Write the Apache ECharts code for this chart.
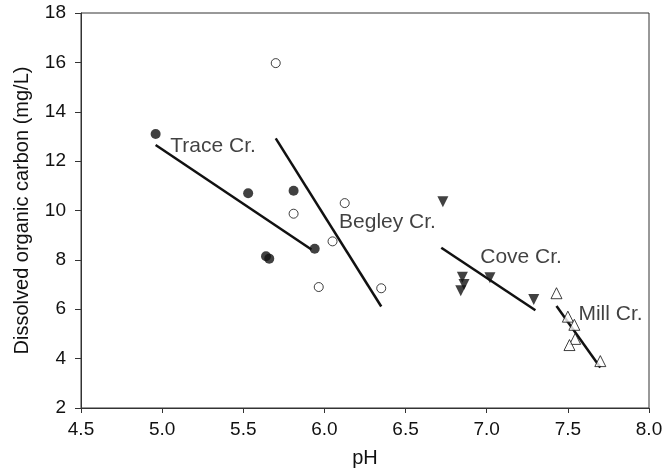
<!DOCTYPE html>
<html>
<head>
<meta charset="utf-8">
<script src="https://cdn.jsdelivr.net/npm/echarts@6/dist/echarts.min.js"></script>
<style>
  html, body { margin: 0; padding: 0; background: #fff; }
  #chart { width: 667px; height: 473px; }
</style>
</head>
<body>
<div id="chart"></div>
<script>
// pH / DOC points per creek
const tracePH = [4.96, 5.53, 5.81, 5.94, 5.64, 5.66]
const traceDOC = [13.1, 10.7, 10.8, 8.45, 8.15, 8.05]
const begleyPH = [5.70, 6.125, 5.81, 6.05, 5.965, 6.35]
const begleyDOC = [15.97, 10.3, 9.87, 8.75, 6.9, 6.85]
const covePH = [6.73, 7.02, 7.29, 6.85, 6.86, 6.84]
const coveDOC = [10.35, 7.28, 6.4, 7.3, 7.0, 6.75]
const millPH = [7.43, 7.50, 7.54, 7.545, 7.51, 7.70]
const millDOC = [6.65, 5.7, 5.37, 4.8, 4.55, 3.9]

// fitted lines, [start, end]
const traceFitPH = [4.96, 5.92]
const traceFitDOC = [12.65, 8.42]
const begleyFitPH = [5.70, 6.35]
const begleyFitDOC = [12.92, 6.11]
const coveFitPH = [6.72, 7.30]
const coveFitDOC = [8.49, 5.96]
const millFitPH = [7.43, 7.70]
const millFitDOC = [6.13, 3.64]

// creek names and where their text sits
const creekNames = ['Trace Cr.', 'Begley Cr.', 'Cove Cr.', 'Mill Cr.']
const namePH = [5.05, 6.09, 6.96, 7.565]
const nameDOC = [12.6, 9.53, 8.09, 5.8]

const xTicks = [4.5, 8.0]
const yTicks = [2, 18]

const ink = '#111'
const font = 'Liberation Sans, Arial, Helvetica, sans-serif'

const pairs = (xs, ys) => xs.map((x, i) => [x, ys[i]])

const fitLine = (xs, ys) => ({
  type: 'line',
  data: pairs(xs, ys),
  symbol: 'none',
  silent: true,
  lineStyle: { color: ink, width: 2.5 },
  z: 2
})

const option = {
  animation: false,
  backgroundColor: '#fff',
  grid: {
    left: 81, right: 18, top: 13, bottom: 63,
    show: true, borderColor: '#333', borderWidth: 1
  },
  xAxis: {
    type: 'value',
    min: xTicks[0], max: xTicks[1], interval: 0.5,
    name: 'pH', nameLocation: 'middle', nameGap: 40,
    nameTextStyle: { color: ink, fontSize: 20, fontFamily: font },
    axisLine: { show: true, onZero: false, lineStyle: { color: '#333', width: 1 } },
    axisTick: { show: true, inside: false, length: 5, lineStyle: { color: '#333' } },
    axisLabel: {
      color: ink, fontSize: 19, fontFamily: font, margin: 12,
      formatter: v => v.toFixed(1)
    },
    splitLine: { show: false }
  },
  yAxis: {
    type: 'value',
    min: yTicks[0], max: yTicks[1], interval: 2,
    name: 'Dissolved organic carbon (mg/L)', nameLocation: 'middle', nameGap: 49,
    nameTextStyle: { color: ink, fontSize: 20, fontFamily: font },
    axisLine: { show: true, onZero: false, lineStyle: { color: '#333', width: 1 } },
    axisTick: { show: true, inside: false, length: 6, lineStyle: { color: '#333' } },
    axisLabel: { color: ink, fontSize: 19, fontFamily: font, margin: 15 },
    splitLine: { show: false }
  },
  series: [
    fitLine(traceFitPH, traceFitDOC),
    fitLine(begleyFitPH, begleyFitDOC),
    fitLine(coveFitPH, coveFitDOC),
    fitLine(millFitPH, millFitDOC),
    {
      type: 'scatter', name: 'Trace',
      data: pairs(tracePH, traceDOC),
      symbol: 'circle', symbolSize: 10,
      itemStyle: { color: ink }, z: 3
    },
    {
      type: 'scatter', name: 'Begley',
      data: pairs(begleyPH, begleyDOC),
      symbol: 'circle', symbolSize: 9,
      itemStyle: { color: '#fff', borderColor: ink, borderWidth: 1 }, z: 3
    },
    {
      type: 'scatter', name: 'Cove',
      data: pairs(covePH, coveDOC),
      symbol: 'triangle', symbolSize: 11, symbolRotate: 180,
      itemStyle: { color: ink }, z: 3
    },
    {
      type: 'scatter', name: 'Mill',
      data: pairs(millPH, millDOC),
      symbol: 'triangle', symbolSize: 11,
      itemStyle: { color: '#fff', borderColor: ink, borderWidth: 1 }, z: 3
    },
    {
      // creek name labels
      type: 'scatter',
      data: creekNames.map((n, i) => ({ value: [namePH[i], nameDOC[i]], name: n })),
      symbolSize: 0,
      silent: true,
      label: {
        show: true, position: 'right', distance: 0,
        formatter: p => p.name,
        color: ink, fontSize: 21, fontFamily: font
      },
      z: 4
    }
  ]
}

echarts.init(document.getElementById('chart'), null, { renderer: 'canvas' }).setOption(option)
</script>
</body>
</html>
